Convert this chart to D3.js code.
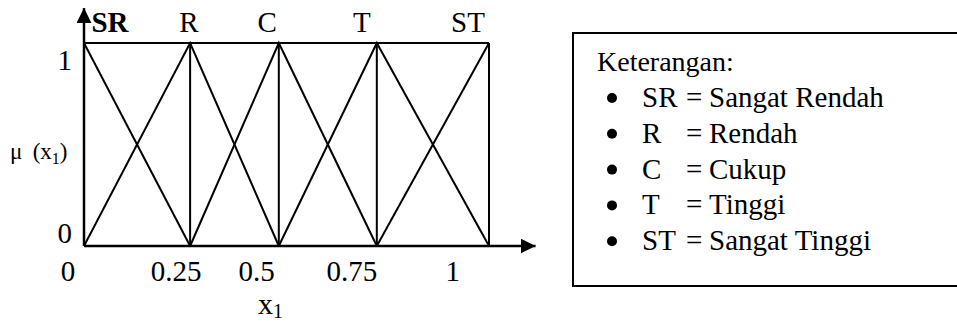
<!DOCTYPE html>
<html>
<head>
<meta charset="utf-8">
<script src="https://cdn.jsdelivr.net/npm/d3@7"></script>
<style>
  body { margin: 0; background: #fff; }
  svg text { font-family: "Liberation Serif", "Times New Roman", serif; fill: #000; }
</style>
</head>
<body>
<script>
// membership terms and where their peaks sit on x1
const terms = ['SR', 'R', 'C', 'T', 'ST'];
const peaks = [0, 0.262, 0.481, 0.723, 1];
const termLabelAt = [0.064, 0.259, 0.452, 0.686, 0.948];

// tick labels (hand placed in the original, so positions read separately)
const xTickLabels = ['0', '0.25', '0.5', '0.75', '1'];
const xTickAt = [-0.041, 0.226, 0.425, 0.660, 0.909];
const yTickLabels = ['1', '0'];
const yTickAt = [0.914, 0.064];

// legend
const legendTitle = 'Keterangan:';
const legendAbbr = ['SR', 'R', 'C', 'T', 'ST'];
const legendDesc = ['Sangat Rendah', 'Rendah', 'Cukup', 'Tinggi', 'Sangat Tinggi'];

const width = 957, height = 324;
const plot = {left: 84, right: 489, top: 43, bottom: 246};

const svg = d3.select('body').append('svg')
    .attr('width', width)
    .attr('height', height);

const x = d3.scaleLinear().domain([0, 1]).range([plot.left, plot.right]);
const y = d3.scaleLinear().domain([0, 1]).range([plot.bottom, plot.top]);

//arrow marker for the axes
svg.append('defs').append('marker')
    .attr('id', 'arrow')
    .attr('viewBox', '0 0 10 10')
    .attr('refX', 10).attr('refY', 5)
    .attr('markerWidth', 6).attr('markerHeight', 6)
    .attr('markerUnits', 'strokeWidth')
    .attr('orient', 'auto')
  .append('path')
    .attr('d', 'M0,0 L10,5 L0,10 Z')
    .attr('fill', '#000');

const line = d3.line().x(d => x(d[0])).y(d => y(d[1]));

// triangle for every term, clipped at the ends
const shapes = peaks.map((p, i) => {
  const pts = [];
  if (i > 0) pts.push([peaks[i - 1], 0]);
  pts.push([p, 1]);
  if (i < peaks.length - 1) pts.push([peaks[i + 1], 0]);
  return pts;
});

const g = svg.append('g');

g.selectAll('path.mf')
  .data(shapes)
  .join('path')
    .attr('class', 'mf')
    .attr('d', line)
    .attr('fill', 'none')
    .attr('stroke', '#000')
    .attr('stroke-width', 2);

// vertical drop lines at each peak
g.selectAll('line.drop')
  .data(peaks.slice(1))
  .join('line')
    .attr('class', 'drop')
    .attr('x1', d => x(d)).attr('x2', d => x(d))
    .attr('y1', y(1)).attr('y2', y(0))
    .attr('stroke', '#000')
    .attr('stroke-width', 2);

// top line at mu = 1
g.append('line')
    .attr('x1', x(0)).attr('x2', x(1))
    .attr('y1', y(1)).attr('y2', y(1))
    .attr('stroke', '#000')
    .attr('stroke-width', 2);

// axes with arrows
g.append('line')
    .attr('x1', x(0)).attr('x2', x(1.115))
    .attr('y1', y(0)).attr('y2', y(0))
    .attr('stroke', '#000').attr('stroke-width', 2.5)
    .attr('marker-end', 'url(#arrow)');
g.append('line')
    .attr('x1', x(0)).attr('x2', x(0))
    .attr('y1', y(0)).attr('y2', y(1.172))
    .attr('stroke', '#000').attr('stroke-width', 2.5)
    .attr('marker-end', 'url(#arrow)');

// x tick labels
const xAxis = d3.axisBottom(x)
    .tickValues(xTickAt)
    .tickFormat((d, i) => xTickLabels[i])
    .tickSize(0)
    .tickPadding(14);
const xg = svg.append('g')
    .attr('transform', `translate(0,${plot.bottom})`)
    .call(xAxis);
xg.select('.domain').remove();
xg.selectAll('text')
    .style('font-family', '"Liberation Serif", serif')
    .style('font-size', '29px')
    .attr('fill', '#000');

// y tick labels
const yAxis = d3.axisLeft(y)
    .tickValues(yTickAt)
    .tickFormat((d, i) => yTickLabels[i])
    .tickSize(0)
    .tickPadding(12);
const yg = svg.append('g')
    .attr('transform', `translate(${plot.left},0)`)
    .call(yAxis);
yg.select('.domain').remove();
yg.selectAll('text')
    .style('font-family', '"Liberation Serif", serif')
    .style('font-size', '29px')
    .attr('fill', '#000');

// term names on top
svg.selectAll('text.term')
  .data(terms)
  .join('text')
    .attr('class', 'term')
    .attr('x', (d, i) => x(termLabelAt[i]))
    .attr('y', 32)
    .attr('text-anchor', 'middle')
    .style('font-size', '29px')
    .style('font-weight', (d, i) => i === 0 ? 'bold' : 'normal')
    .text(d => d);

// y axis title  mu (x1)
const mu = svg.append('text')
    .attr('x', 10).attr('y', 159)
    .style('font-size', '23px');
mu.append('tspan').text('\u03bc\u2009 (x');
mu.append('tspan').attr('dy', 5).style('font-size', '16px').text('1');
mu.append('tspan').attr('dy', -5).text(')');

// x axis title x1
const xt = svg.append('text')
    .attr('x', 258).attr('y', 314)
    .style('font-size', '30px');
xt.append('tspan').text('x');
xt.append('tspan').attr('dy', 4).style('font-size', '20px').text('1');

// legend box
const lg = svg.append('g');
lg.append('rect')
    .attr('x', 573).attr('y', 33)
    .attr('width', 420).attr('height', 253)
    .attr('fill', 'none')
    .attr('stroke', '#000')
    .attr('stroke-width', 2);
lg.append('text')
    .attr('x', 597).attr('y', 71)
    .style('font-size', '28px')
    .text(legendTitle);

const rows = lg.selectAll('g.row')
  .data(legendAbbr)
  .join('g')
    .attr('class', 'row')
    .attr('transform', (d, i) => `translate(0,${107 + i * 35.8})`);
rows.append('circle')
    .attr('cx', 612).attr('cy', -9).attr('r', 5)
    .attr('fill', '#000');
rows.append('text')
    .attr('x', 642)
    .style('font-size', '29px')
    .text(d => d);
rows.append('text')
    .attr('x', 686)
    .style('font-size', '29px')
    .text('=');
rows.append('text')
    .attr('x', 709)
    .style('font-size', '29px')
    .text((d, i) => legendDesc[i]);
</script>
</body>
</html>
